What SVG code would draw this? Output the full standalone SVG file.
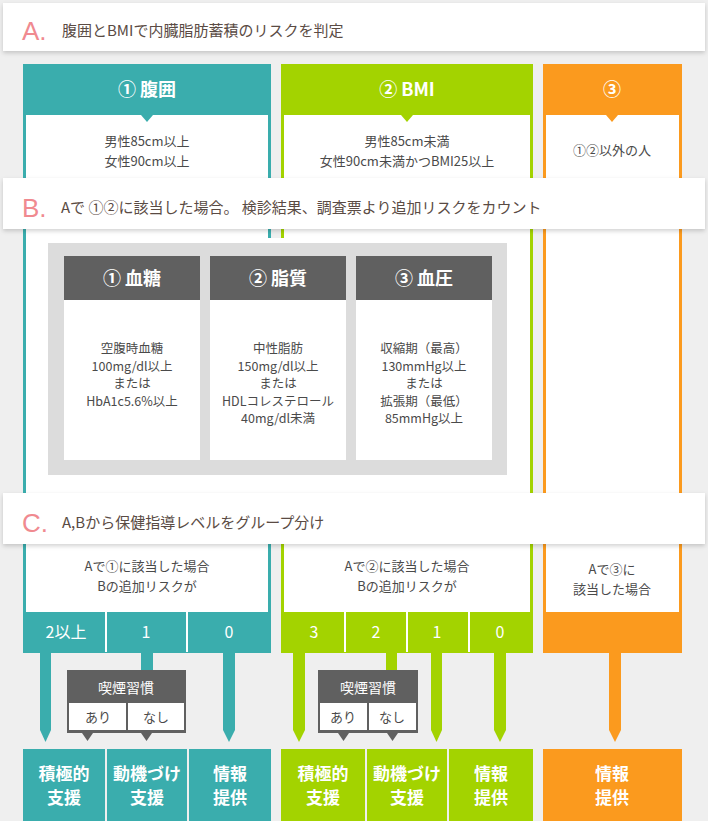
<svg xmlns="http://www.w3.org/2000/svg" width="708" height="821" viewBox="0 0 708 821">
<defs>
<filter id="sh" x="-5%" y="-30%" width="110%" height="170%"><feDropShadow dx="0" dy="2" stdDeviation="2" flood-color="#000" flood-opacity="0.18"/></filter>
<style>
text{font-family:"Noto Sans CJK JP","Noto Sans",sans-serif;text-anchor:middle}
.t{fill:#4a4a4a;font-size:13px}
.s{fill:#4a4a4a;font-size:12.5px}
.h{fill:#fff;font-size:18px;font-weight:bold}
.n{fill:#fff;font-size:16px}
.b{fill:#fff;font-size:17px;font-weight:bold}
.band{fill:#fff}
.bt{fill:#5a4b44;font-size:15px;text-anchor:start}
.bl{fill:#f08a90;font-size:26px;text-anchor:start;font-family:"Liberation Sans",sans-serif}
.teal{fill:#3aadad}.green{fill:#a3d300}.orange{fill:#fb9a1e}.dk{fill:#606060}
</style>
</defs>
<rect width="708" height="821" fill="#efefef"/>
<g id="col1">
<rect x="23" y="64" width="248" height="589" class="teal"/>
<rect x="26" y="115" width="242" height="497" fill="#fff"/>
<polygon points="141,115 153,115 147,122" class="teal"/>
<text x="147" y="96" class="h">① 腹囲</text>
<text x="147" y="146" class="t">男性85cm以上</text>
<text x="147" y="166" class="t">女性90cm以上</text>
</g>
<g id="col2">
<rect x="281" y="64" width="252" height="589" class="green"/>
<rect x="284" y="115" width="246" height="497" fill="#fff"/>
<polygon points="401,115 413,115 407,122" class="green"/>
<text x="407" y="96" class="h">② BMI</text>
<text x="407" y="146" class="t">男性85cm未満</text>
<text x="407" y="166" class="t">女性90cm未満かつBMI25以上</text>
</g>
<g id="col3">
<rect x="543" y="64" width="139" height="589" class="orange"/>
<rect x="546" y="115" width="133" height="497" fill="#fff"/>
<polygon points="606,115 618,115 612,122" class="orange"/>
<text x="612" y="96" class="h">③</text>
<text x="612" y="155" class="t">①②以外の人</text>
</g>
<rect x="26" y="238" width="504" height="255" fill="#fff"/>
<g id="bandA"><rect x="3" y="3" width="702" height="48" class="band" filter="url(#sh)"/><text x="22" y="40" class="bl">A.</text><text x="62" y="36" class="bt">腹囲とBMIで内臓脂肪蓄積のリスクを判定</text></g>
<g id="bandB"><rect x="3" y="178" width="702" height="51" class="band" filter="url(#sh)"/><text x="22" y="217" class="bl">B.</text><text x="61" y="213" class="bt">Aで ①②に該当した場合。 検診結果、調査票より追加リスクをカウント</text></g>
<g id="riskbox">
<rect x="48" y="243" width="459" height="232" fill="#dcdcdc"/>
<rect x="64" y="256" width="136" height="44" class="dk"/><rect x="64" y="300" width="136" height="160" fill="#fff"/>
<rect x="210" y="256" width="136" height="44" class="dk"/><rect x="210" y="300" width="136" height="160" fill="#fff"/>
<rect x="356" y="256" width="136" height="44" class="dk"/><rect x="356" y="300" width="136" height="160" fill="#fff"/>
<text x="132" y="285" class="h">① 血糖</text>
<text x="278" y="285" class="h">② 脂質</text>
<text x="424" y="285" class="h">③ 血圧</text>
<g class="s"><text x="132" y="353">空腹時血糖</text><text x="132" y="370.5">100mg/dl以上</text><text x="132" y="388">または</text><text x="132" y="405.5">HbA1c5.6%以上</text></g>
<g class="s"><text x="278" y="353">中性脂肪</text><text x="278" y="370.5">150mg/dl以上</text><text x="278" y="388">または</text><text x="278" y="405.5">HDLコレステロール</text><text x="278" y="423">40mg/dl未満</text></g>
<g class="s"><text x="424" y="353">収縮期（最高）</text><text x="424" y="370.5">130mmHg以上</text><text x="424" y="388">または</text><text x="424" y="405.5">拡張期（最低）</text><text x="424" y="423">85mmHg以上</text></g>
</g>
<g id="bandC"><rect x="3" y="493" width="702" height="51" class="band" filter="url(#sh)"/><text x="22" y="532" class="bl">C.</text><text x="62" y="528" class="bt">A,Bから保健指導レベルをグループ分け</text></g>
<g class="t">
<text x="147" y="571">Aで①に該当した場合</text><text x="147" y="591">Bの追加リスクが</text>
<text x="407" y="571">Aで②に該当した場合</text><text x="407" y="591">Bの追加リスクが</text>
<text x="612" y="574">Aで③に</text><text x="612" y="594">該当した場合</text>
</g>
<g id="numbers">
<rect x="105" y="612" width="2" height="40" fill="#fff"/><rect x="186" y="612" width="2" height="40" fill="#fff"/>
<rect x="344" y="612" width="2" height="40" fill="#fff"/><rect x="406" y="612" width="2" height="40" fill="#fff"/><rect x="468" y="612" width="2" height="40" fill="#fff"/>
<text x="66" y="638" class="n">2以上</text><text x="146" y="638" class="n">1</text><text x="229" y="638" class="n">0</text>
<text x="314" y="638" class="n">3</text><text x="376" y="638" class="n">2</text><text x="437" y="638" class="n">1</text><text x="500" y="638" class="n">0</text>
</g>
<g id="connectors">
<polygon points="40,653 51,653 51,730 45.5,742 40,730" class="teal"/>
<rect x="141" y="653" width="12" height="20" class="teal"/>
<polygon points="223,653 235,653 235,730 229,742 223,730" class="teal"/>
<polygon points="293,653 305,653 305,730 299,742 293,730" class="green"/>
<rect x="386" y="653" width="11" height="20" class="green"/>
<polygon points="431,653 442,653 442,730 436.5,742 431,730" class="green"/>
<polygon points="494,653 506,653 506,730 500,742 494,730" class="green"/>
<polygon points="609,653 621,653 621,730 615,742 609,730" class="orange"/>
<polygon points="82,733 93,733 87.5,741" class="dk"/><polygon points="141,733 152,733 146.5,741" class="dk"/>
<polygon points="338,733 349,733 343.5,741" class="dk"/><polygon points="387,733 398,733 392.5,741" class="dk"/>
</g>
<g id="smoke1">
<rect x="67" y="670" width="119" height="63" class="dk"/><rect x="69" y="703" width="57" height="27" fill="#fff"/><rect x="128" y="703" width="56" height="27" fill="#fff"/>
<text x="126" y="693" fill="#fff" font-size="14">喫煙習慣</text><text x="98" y="722" class="t">あり</text><text x="156" y="722" class="t">なし</text>
</g>
<g id="smoke2">
<rect x="318" y="670" width="100" height="63" class="dk"/><rect x="320" y="703" width="47" height="27" fill="#fff"/><rect x="369" y="703" width="47" height="27" fill="#fff"/>
<text x="368" y="693" fill="#fff" font-size="14">喫煙習慣</text><text x="343" y="722" class="t">あり</text><text x="392" y="722" class="t">なし</text>
</g>
<g id="results">
<rect x="23" y="749" width="82" height="72" class="teal"/><rect x="107" y="749" width="80" height="72" class="teal"/><rect x="189" y="749" width="82" height="72" class="teal"/>
<rect x="281" y="749" width="84" height="72" class="green"/><rect x="367" y="749" width="80" height="72" class="green"/><rect x="449" y="749" width="84" height="72" class="green"/>
<rect x="543" y="749" width="139" height="72" class="orange"/>
<text x="64" y="780" class="b">積極的</text><text x="64" y="804" class="b">支援</text>
<text x="147" y="780" class="b">動機づけ</text><text x="147" y="804" class="b">支援</text>
<text x="230" y="780" class="b">情報</text><text x="230" y="804" class="b">提供</text>
<text x="323" y="780" class="b">積極的</text><text x="323" y="804" class="b">支援</text>
<text x="407" y="780" class="b">動機づけ</text><text x="407" y="804" class="b">支援</text>
<text x="491" y="780" class="b">情報</text><text x="491" y="804" class="b">提供</text>
<text x="612" y="780" class="b">情報</text><text x="612" y="804" class="b">提供</text>
</g>
</svg>
